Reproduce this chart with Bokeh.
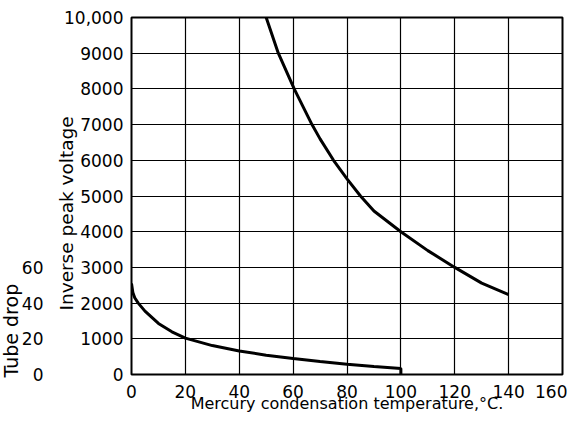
from bokeh.plotting import figure
from bokeh.models import Range1d, LinearAxis, FixedTicker, Title
from bokeh.embed import file_html
from bokeh.resources import INLINE

# Inverse peak voltage vs mercury condensation temperature
temp_voltage = [50, 54.5, 60.4, 67, 70, 75, 80, 85, 90, 100, 110, 120, 130, 140]
inverse_peak_voltage = [10000, 9000, 8000, 7000, 6600, 6000, 5480, 5000, 4580, 4000, 3470, 3000, 2560, 2240]

# Tube drop vs mercury condensation temperature
temp_drop = [0, 0.5, 1.2, 2.5, 5, 10, 15, 20, 30, 40, 50, 60, 70, 80, 90, 100, 100]
tube_drop = [51, 46, 43, 40, 35.5, 28.6, 23.9, 20.4, 16.2, 13.2, 10.8, 9, 7.3, 5.8, 4.5, 3.4, 0]

x_ticks = [0, 20, 40, 60, 80, 100, 120, 140, 160]
x_tick_labels = ["0", "20", "40", "60", "80", "100", "120", "140", "160"]
y_ticks = [0, 1000, 2000, 3000, 4000, 5000, 6000, 7000, 8000, 9000, 10000]
y_tick_labels = ["0", "1000", "2000", "3000", "4000", "5000", "6000", "7000", "8000", "9000", "10,000"]
drop_ticks = [0, 20, 40, 60]
drop_tick_labels = ["0", "20", "40", "60"]

FONT = "DejaVu Sans"

p = figure(width=567, height=416, output_backend="svg", toolbar_location=None,
           x_range=Range1d(0, 160), y_range=Range1d(0, 10000),
           min_border_left=131, min_border_right=5, min_border_top=17, min_border_bottom=42)
p.extra_y_ranges = {"drop": Range1d(0, 200)}

p.background_fill_color = "white"
p.border_fill_color = "white"
p.outline_line_color = "black"
p.outline_line_width = 2

# x axis
p.xaxis.ticker = FixedTicker(ticks=x_ticks)
p.xaxis.major_label_overrides = dict(zip(x_ticks, x_tick_labels))
p.xaxis.axis_label = "Mercury condensation temperature,\u00b0C."

# voltage axis
p.yaxis.ticker = FixedTicker(ticks=y_ticks)
p.yaxis.major_label_overrides = dict(zip(y_ticks, y_tick_labels))

# label of the voltage axis
p.add_layout(Title(text="Inverse peak voltage", align="left", offset=64, standoff=-30,
                   text_font=FONT, text_font_size="18.5px", text_font_style="normal",
                   text_color="black"), "left")

# tube drop axis
drop_axis = LinearAxis(y_range_name="drop", ticker=FixedTicker(ticks=drop_ticks),
                       major_label_overrides=dict(zip(drop_ticks, drop_tick_labels)))
p.add_layout(drop_axis, "left")

p.add_layout(Title(text="Tube drop", align="left", offset=-3, standoff=-6,
                   text_font=FONT, text_font_size="19px", text_font_style="normal",
                   text_color="black"), "left")

for ax in [p.xaxis[0], p.yaxis[0], drop_axis]:
    ax.axis_line_color = None
    ax.major_tick_line_color = None
    ax.minor_tick_line_color = None
    ax.major_tick_out = 0
    ax.major_tick_in = 0
    ax.major_label_text_font = FONT
    ax.major_label_text_font_size = "17px"
    ax.major_label_text_color = "black"
    ax.axis_label_text_font = FONT
    ax.axis_label_text_font_style = "normal"
    ax.axis_label_text_font_size = "16px"
    ax.axis_label_text_color = "black"

p.xaxis.major_label_standoff = 10
p.xaxis.axis_label_standoff = -7
p.yaxis[0].major_label_standoff = 8
drop_axis.major_label_standoff = 18

p.xgrid.ticker = FixedTicker(ticks=x_ticks)
p.ygrid.ticker = FixedTicker(ticks=y_ticks)
p.xgrid.grid_line_color = "black"
p.ygrid.grid_line_color = "black"
p.xgrid.grid_line_width = 1.2
p.ygrid.grid_line_width = 1.2

p.line(temp_voltage, inverse_peak_voltage, line_color="black", line_width=3)
p.line(temp_drop, tube_drop, y_range_name="drop", line_color="black", line_width=3)

open("out.html", "w").write(file_html(p, INLINE))
